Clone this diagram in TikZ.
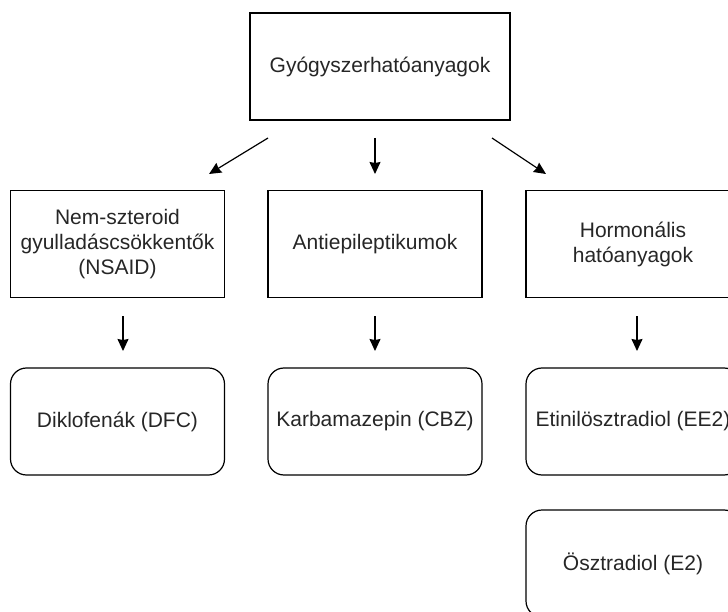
\documentclass[tikz,border=0pt]{standalone}
\usepackage{fontspec}
\setmainfont{Liberation Sans}
\usetikzlibrary{arrows.meta}
\begin{document}
\begin{tikzpicture}[x=1pt,y=-1pt,
  every node/.style={font=\fontsize{21}{25}\selectfont, text=black!85},
  sqbox/.style={draw=black, line width=1.2pt, minimum width=214pt, minimum height=107pt, inner sep=0pt, align=center},
  rbox/.style={sqbox, rounded corners=16pt},
  arr/.style={line width=1.2pt, -{Stealth[length=12pt,width=11pt,inset=1pt]}}
]
\useasboundingbox (0,0) rectangle (728,612);
\clip (0,0) rectangle (728,612);
\node[sqbox, minimum width=260pt] (top) at (380,66.5) {Gyógyszerhatóanyagok};
\node[sqbox] (nsaid) at (117.5,244) {Nem-szteroid\\gyulladáscsökkentők\\(NSAID)};
\node[sqbox] (anti) at (375,244) {Antiepileptikumok};
\node[sqbox] (horm) at (633,244) {Hormonális\\hatóanyagok};
\node[rbox] (dfc) at (117.5,421.5) {Diklofenák (DFC)};
\node[rbox] (cbz) at (375,421.5) {Karbamazepin (CBZ)};
\node[rbox] (ee2) at (633,421.5) {Etinilösztradiol (EE2)};
\node[rbox] (e2) at (633,563.5) {Ösztradiol (E2)};
\coordinate (a1s) at (268,138); \coordinate (a1e) at (209,174);
\coordinate (a2s) at (375,138); \coordinate (a2e) at (375,174);
\coordinate (a3s) at (492,138); \coordinate (a3e) at (546,174);
\coordinate (b1s) at (123,316); \coordinate (b1e) at (123,351);
\coordinate (b2s) at (375,316); \coordinate (b2e) at (375,351);
\coordinate (b3s) at (637,316); \coordinate (b3e) at (637,351);
\draw[arr] (a1s) -- (a1e);
\draw[arr] (a2s) -- (a2e);
\draw[arr] (a3s) -- (a3e);
\draw[arr] (b1s) -- (b1e);
\draw[arr] (b2s) -- (b2e);
\draw[arr] (b3s) -- (b3e);
\end{tikzpicture}
\end{document}
